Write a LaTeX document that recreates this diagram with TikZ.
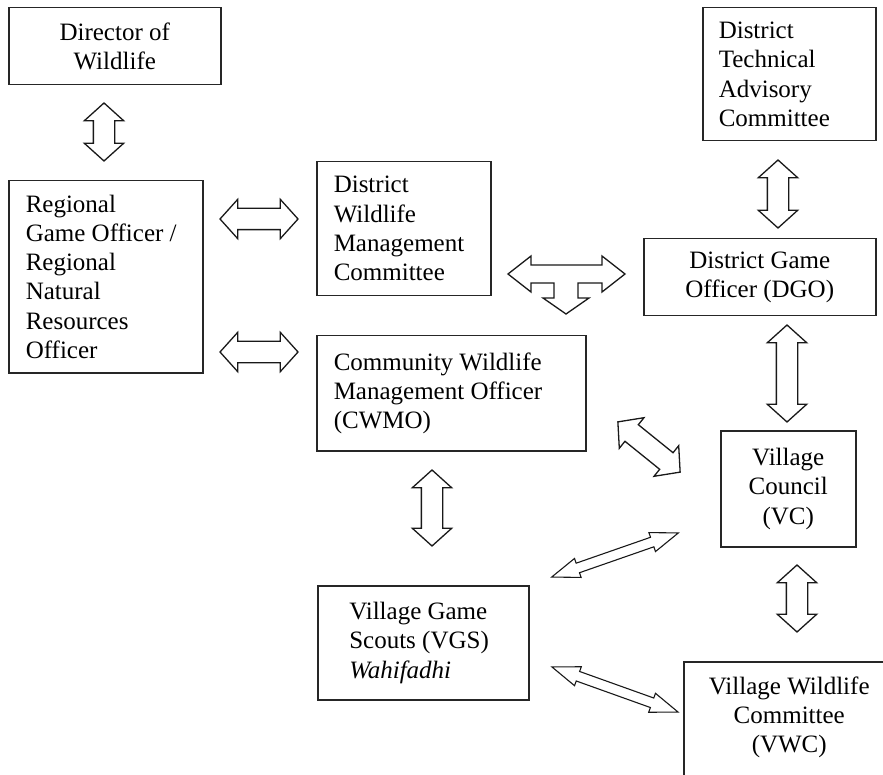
\documentclass[tikz,border=0pt]{standalone}
\usepackage{fontspec}
\setmainfont{Liberation Serif}
\usetikzlibrary{shapes.arrows}

\begin{document}
\begin{tikzpicture}[x=1pt,y=-1pt]
    \tikzstyle{every node}=[font=\fontsize{25}{29.3}\selectfont]
    \tikzstyle{box}=[draw=black!85,line width=1.5pt,inner xsep=0pt,anchor=north west]
    \tikzstyle{bigarrow}=[draw=black!90,line width=1.3pt,double arrow,inner xsep=0pt,inner ysep=10pt,
      double arrow head extend=9pt,double arrow tip angle=96,minimum width=0pt]
    \tikzstyle{thinarrow}=[draw=black!90,line width=1.1pt,double arrow,inner xsep=0pt,inner ysep=4.5pt,
      double arrow head extend=5pt,double arrow tip angle=40,minimum width=0pt]
    \useasboundingbox (0,0) rectangle (883,775);

    \node[box,minimum width=212pt,minimum height=77pt,align=center] (dir) at (8,7) {Director of\\Wildlife};
    \node[box,minimum width=194pt,minimum height=192pt,text width=160pt,align=flush left] (rgo) at (8,180)
      {Regional\\Game Officer /\\Regional\\Natural\\Resources\\Officer};
    \node[box,minimum width=174pt,minimum height=134pt,text width=140pt,align=flush left] (dwmc) at (316,161)
      {District\\Wildlife\\Management\\Committee};
    \node[box,minimum width=269pt,minimum height=115pt,text width=235pt,align=flush left] (cwmo) at (316,335)
      {Community Wildlife\\Management Officer\\(CWMO)\\[-8pt]};
    \node[box,minimum width=173pt,minimum height=133pt,text width=141pt,align=flush left] (dtac) at (702,7)
      {District\\Technical\\Advisory\\Committee};
    \node[box,minimum width=232pt,minimum height=77pt,align=center] (dgo) at (643,238)
      {District Game\\Officer (DGO)};
    \node[box,minimum width=135pt,minimum height=116pt,align=center] (vc) at (720,430)
      {Village\\Council\\(VC)};
    \node[box,minimum width=211pt,minimum height=114pt,text width=148pt,align=flush left] (vgs) at (317,585)
      {Village Game\\Scouts (VGS)\\\textit{Wahifadhi}};
    \node[box,minimum width=211pt,inner ysep=15pt,text depth=100pt,align=center] (vwc) at (683,661)
      {Village Wildlife\\Committee\\(VWC)};

    \node[bigarrow,rotate=90,minimum height=58pt] (dir-rgo) at (104,132) {};
    \node[bigarrow,minimum height=78pt] (rgo-dwmc) at (259,219) {};
    \node[bigarrow,minimum height=78pt] (rgo-cwmo) at (259,352) {};
    \node[bigarrow,rotate=90,minimum height=68pt] (dtac-dgo) at (778,194) {};
    \node[bigarrow,rotate=90,minimum height=97pt] (dgo-vc) at (787,373.5) {};
    \node[bigarrow,rotate=-38.9,minimum height=80pt] (cwmo-vc) at (649,447) {};
    \node[bigarrow,rotate=90,minimum height=76pt] (cwmo-vgs) at (432,508) {};
    \node[bigarrow,rotate=90,minimum height=67pt] (vc-vwc) at (797,598.5) {};
    \node[thinarrow,rotate=19.2,minimum height=134pt] (vgs-vc) at (615,555) {};
    \node[thinarrow,rotate=-19.7,minimum height=134pt] (vgs-vwc) at (615,689.5) {};

    \draw[draw=black!90,line width=1.3pt] (508,274) -- (531,256) -- (531,265) -- (602,265) -- (602,256)
      -- (625,274) -- (602,292) -- (602,283) -- (578,283) -- (578,298) -- (589,298) -- (566,314)
      -- (543,298) -- (554,298) -- (554,283) -- (531,283) -- (531,292) -- cycle;
\end{tikzpicture}
\end{document}
